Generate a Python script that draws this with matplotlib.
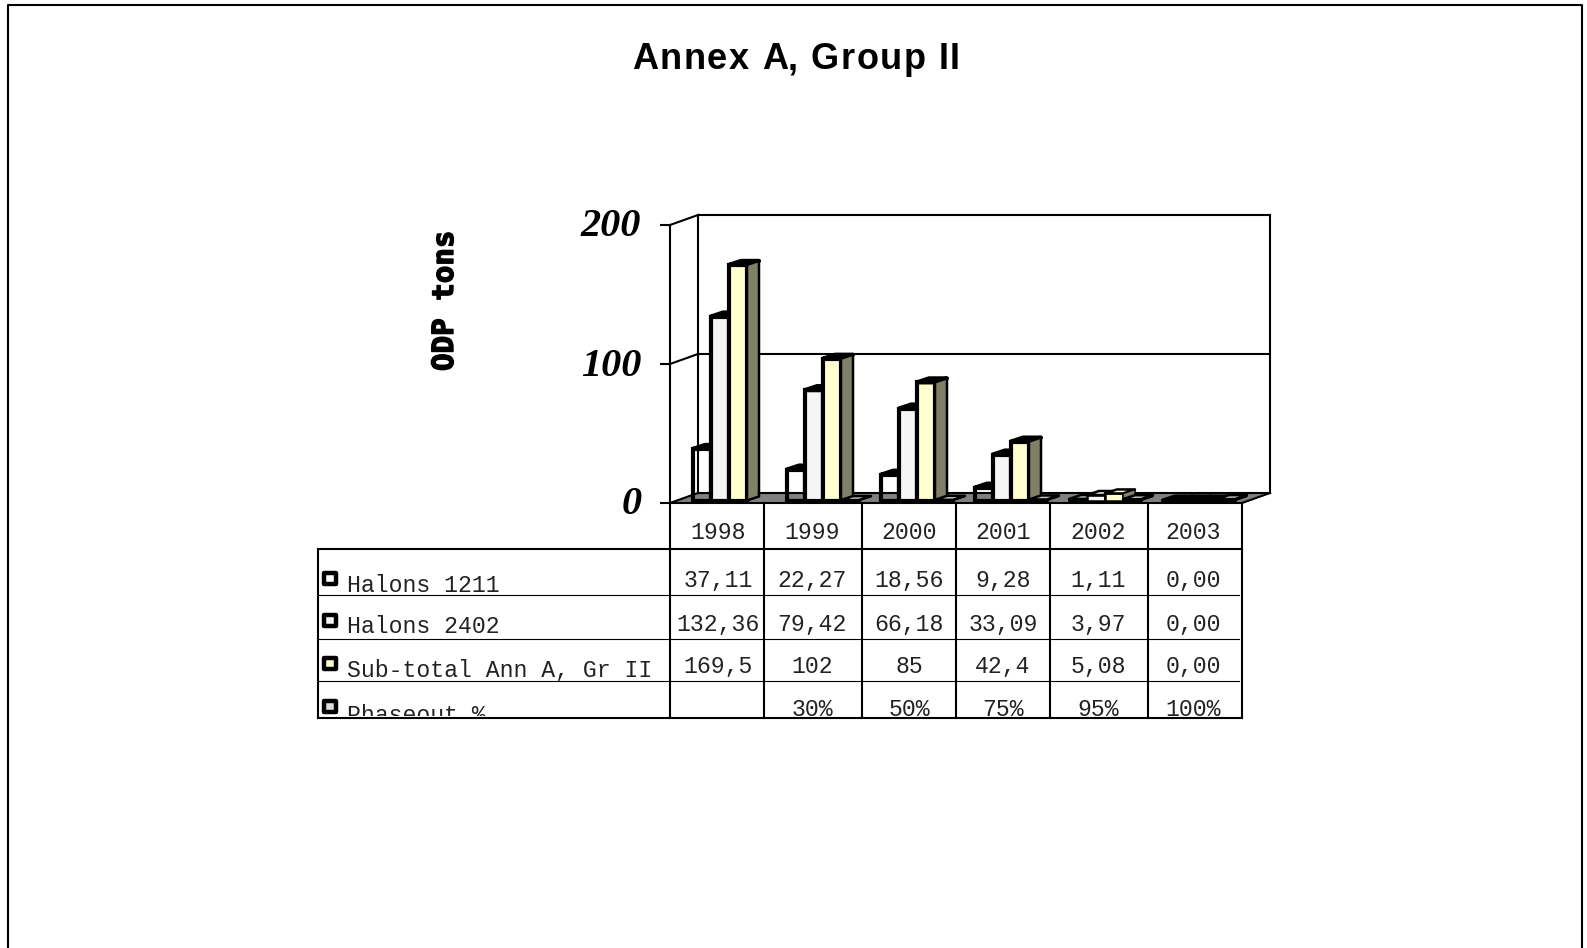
import numpy as np
import matplotlib
matplotlib.use('Agg')
import matplotlib.pyplot as plt
import matplotlib.patheffects as pe
from matplotlib.patches import Rectangle
from matplotlib.transforms import Bbox, ScaledTranslation

W, H = 1587, 948

years = ['1998', '1999', '2000', '2001', '2002', '2003']
series_names = ['Halons 1211', 'Halons 2402', 'Sub-total Ann A, Gr II', 'Phaseout %']
halons_1211 = [37.11, 22.27, 18.56, 9.28, 1.11, 0.00]
halons_2402 = [132.36, 79.42, 66.18, 33.09, 3.97, 0.00]
sub_total = [169.5, 102, 85, 42.4, 5.08, 0.00]
phaseout = [np.nan, 0.30, 0.50, 0.75, 0.95, 1.00]
row_1211 = ['37,11', '22,27', '18,56', '9,28', '1,11', '0,00']
row_2402 = ['132,36', '79,42', '66,18', '33,09', '3,97', '0,00']
row_total = ['169,5', '102', '85', '42,4', '5,08', '0,00']
row_phase = ['', '30%', '50%', '75%', '95%', '100%']

# layout, in pixels of the picture
FX0, FX1, FY0, FY200 = 670, 1242, 503, 225
GROUP_PX = 94.0
BAR_PX = 18.0
PX_Y = 200.0 / (FY0 - FY200)
PX_X = 1.0 / GROUP_PX
LW_THICK = 3.0
LW_THIN = 1.8
LW_WALL = 1.5

fig = plt.figure(figsize=(W / 100, H / 100), dpi=100, facecolor='white')

# page layer for frame, table and title
page = fig.add_axes([0, 0, 1, 1], zorder=3)
page.set_xlim(0, W)
page.set_ylim(H, 0)
page.axis('off')
page.patch.set_alpha(0)

# chart layer
ax = fig.add_axes([FX0 / W, 1 - FY0 / H, (FX1 - FX0) / W, (FY0 - FY200) / H], zorder=2)
left = -(693 - FX0) * PX_X
ax.set_xlim(left, left + (FX1 - FX0) * PX_X)
ax.set_ylim(0, 200)
ax.patch.set_alpha(0)
for s in ['top', 'right', 'bottom']:
    ax.spines[s].set_visible(False)
ax.spines['left'].set_linewidth(LW_WALL)
ax.set_xticks([])
ax.set_yticks([0, 100, 200])
ax.set_yticklabels(['0', '100', '200'], fontsize=29, family='Liberation Serif',
                   fontweight='bold', fontstyle='italic')
ax.tick_params(axis='y', length=7.2, width=LW_WALL, pad=13.5)
for lab in ax.get_yticklabels():
    lab.set_transform(lab.get_transform() + ScaledTranslation(0, 2.5 / 100, fig.dpi_scale_trans))

# walls and floor
wx = 28 * PX_X
wy = 10 * PX_Y
xr = ax.get_xlim()[1]
ax.fill([left, left + wx, xr + wx, xr], [0, wy, wy, 0], color='#808080', zorder=1, clip_on=False)
wall = dict(color='black', lw=LW_WALL, zorder=1.5, clip_on=False, solid_capstyle='projecting')
ax.plot([left + wx, left + wx], [wy, 200 + wy], **wall)
ax.plot([xr + wx, xr + wx], [wy, 200 + wy], **wall)
ax.plot([left + wx, xr + wx], [200 + wy, 200 + wy], **wall)
ax.plot([left + wx, xr + wx], [wy, wy], **wall)
ax.plot([left + wx, xr + wx], [100 + wy, 100 + wy], **wall)
ax.plot([left, xr], [0, 0], **wall)
ax.plot([xr, xr + wx], [0, wy], **wall)
for v in [0, 100, 200]:
    ax.plot([left, left + wx], [v, v + wy], **wall)

# bars, drawn from the data with a fake depth
face_cols = ['none', '#F5F5F5', '#FFFFD0', '#DDDDDD']
top_cols = ['#9DB8B8', '#F5F5F5', '#FFFFD0', '#C0C0C0']
side_col = '#808066'
series = [halons_1211, halons_2402, sub_total, phaseout]
base = 2.5 * PX_Y
bw = BAR_PX * PX_X
ddx = 12 * PX_X
ddy = 4 * PX_Y
z = 3.0
for i in range(len(years)):
    for j, vals in enumerate(series):
        v = vals[i]
        if np.isnan(v):
            continue
        # the almost flat bars keep some of their fill in the original
        lw = LW_THIN if 0 < v < 6 else LW_THICK
        x0 = i + j * bw
        ax.bar(x0, v, width=bw, bottom=base, align='edge', facecolor=face_cols[j],
               edgecolor='black', linewidth=lw, zorder=z, clip_on=False)
        y1 = base + v
        ax.fill([x0, x0 + ddx, x0 + bw + ddx, x0 + bw], [y1, y1 + ddy, y1 + ddy, y1],
                facecolor=top_cols[j], edgecolor='black', lw=lw, zorder=z + 0.1,
                clip_on=False, joinstyle='round')
        ax.fill([x0 + bw, x0 + bw + ddx, x0 + bw + ddx, x0 + bw],
                [base, base + ddy, y1 + ddy, y1],
                facecolor=side_col, edgecolor='black', lw=lw * 0.6, zorder=z + 0.1,
                clip_on=False, joinstyle='round')
        z += 0.2

# page frame and title
page.plot([8, 8, 1582, 1582], [H, 5, 5, H], color='black', lw=1.5)


def spaced_text(x_mid, y, s, gap, **kw):
    # title has wider letter spacing than the font gives
    r = fig.canvas.get_renderer()
    probe = page.text(0, 0, s, **kw)
    offs = []
    for k in range(len(s)):
        probe.set_text(s[:k] + '|')
        a = probe.get_window_extent(r).width
        probe.set_text('|')
        offs.append(a - probe.get_window_extent(r).width + k * gap)
    probe.set_text(s)
    total = probe.get_window_extent(r).width + (len(s) - 1) * gap
    probe.remove()
    for ch, o in zip(s, offs):
        page.text(x_mid - total / 2 + o, y, ch, ha='left', va='baseline', **kw)


spaced_text(796, 69, 'Annex A, Group II', 1.5, family='Liberation Sans', fontweight='bold',
            fontsize=26)
page.text(445, 301, 'ODP tons', family='DejaVu Sans Mono', fontweight='bold', fontsize=21,
          rotation=90, ha='center', va='center',
          path_effects=[pe.withStroke(linewidth=1.0, foreground='black')])

# data table
col_edges = [670, 764, 862, 956, 1050, 1148, 1242]
col_mid = [718, 812, 909, 1003, 1098, 1193]
TOP, BOT = 549, 718
for c in col_edges:
    page.plot([c, c], [FY0, BOT], color='black', lw=LW_WALL)
page.plot([318, 318], [TOP, BOT], color='black', lw=LW_WALL)
page.plot([318, 1242], [TOP, TOP], color='black', lw=LW_WALL)
page.plot([318, 1242], [BOT, BOT], color='black', lw=LW_WALL)
for y in [595, 639, 681]:
    page.plot([318, 1239], [y, y], color='black', lw=0.8)

mono = dict(family='Liberation Mono', fontsize=16.7, color='#222222', va='baseline')
for c, yr in zip(col_mid, years):
    page.text(c, 539, yr, ha='center', **mono)

# last row is cut off by the bottom of the table; agg text only honours a clip box
clip = Bbox([[318, H - BOT + 2.5], [1242, H - TOP]])
name_base = [592, 633, 677, 722]
val_base = [587, 631, 673, 716]
key_y = [578, 620.5, 663, 706]
key_cols = ['white', '#F5F5F5', '#FFFFD0', '#DDDDDD']
rows = [row_1211, row_2402, row_total, row_phase]
for r, name in enumerate(series_names):
    t = page.text(347, name_base[r], name, ha='left', **mono)
    t.set_clip_box(clip)
    t.set_clip_on(True)
    page.add_patch(Rectangle((324, key_y[r] - 5.5), 12, 11, facecolor=key_cols[r], edgecolor='black',
                             lw=3.2, joinstyle='round', zorder=5))
    for c, s in zip(col_mid, rows[r]):
        t = page.text(c, val_base[r], s, ha='center', **mono)
        t.set_clip_box(clip)
        t.set_clip_on(True)

fig.savefig('out.png', dpi=100)
